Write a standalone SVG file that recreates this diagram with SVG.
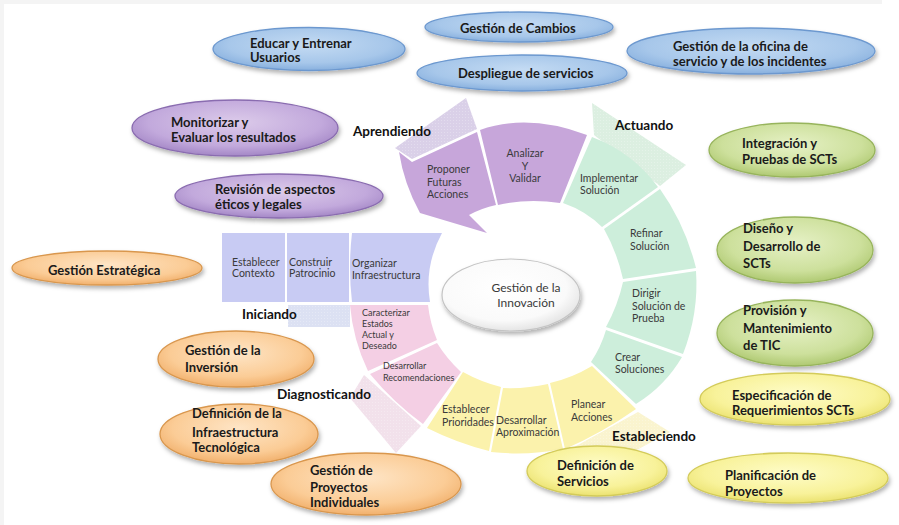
<svg xmlns="http://www.w3.org/2000/svg" width="899" height="525" viewBox="0 0 899 525">
<defs>
<radialGradient id="gBlue" cx="50%" cy="40%" r="60%"><stop offset="0" stop-color="#c4dbf3"/><stop offset="0.7" stop-color="#a7c7ea"/><stop offset="1" stop-color="#88b0de"/></radialGradient>
<radialGradient id="gPurple" cx="50%" cy="40%" r="60%"><stop offset="0" stop-color="#dccbea"/><stop offset="0.7" stop-color="#c2a9dc"/><stop offset="1" stop-color="#a487c6"/></radialGradient>
<radialGradient id="gGreen" cx="50%" cy="40%" r="60%"><stop offset="0" stop-color="#e6f1c6"/><stop offset="0.7" stop-color="#cde09c"/><stop offset="1" stop-color="#afc972"/></radialGradient>
<radialGradient id="gYellow" cx="50%" cy="40%" r="60%"><stop offset="0" stop-color="#fefcc8"/><stop offset="0.7" stop-color="#f8f29a"/><stop offset="1" stop-color="#ebe270"/></radialGradient>
<radialGradient id="gOrange" cx="50%" cy="40%" r="60%"><stop offset="0" stop-color="#fee5c6"/><stop offset="0.7" stop-color="#fbcc96"/><stop offset="1" stop-color="#f1b06c"/></radialGradient>
<radialGradient id="gCenter" cx="45%" cy="40%" r="65%"><stop offset="0" stop-color="#ffffff"/><stop offset="0.7" stop-color="#fafafa"/><stop offset="1" stop-color="#dedede"/></radialGradient>
<pattern id="dots" width="3" height="3" patternUnits="userSpaceOnUse"><rect x="0" y="0" width="1" height="1" fill="#ffffff" fill-opacity="0.25"/></pattern>
<filter id="sh" x="-20%" y="-30%" width="140%" height="170%"><feDropShadow dx="1.5" dy="3" stdDeviation="2" flood-color="#000" flood-opacity="0.3"/></filter>
</defs>
<style>
.seg{stroke:none}
.blue{fill:#c8cbf3}.pink{fill:#f4cfe4}.yellow{fill:#fbf2ac}.green{fill:#cdeedb}.purple{fill:#c7a6da}
.fblue{fill:#dce1f3}.fpink{fill:#f2e1eb}.fyellow{fill:#faf4cf}.fgreen{fill:#dcefe1}.fpurple{fill:#dad0e8}
.dot{fill:url(#dots)}
.st{font-family:Lato,"Open Sans","Liberation Sans",sans-serif;font-size:10.5px;fill:#3a3a3a}
.sm{font-size:9px}
.el{font-family:Lato,"Open Sans","Liberation Sans",sans-serif;font-size:13px;font-weight:bold;fill:#1a1a1a}
.lb{font-family:Lato,"Open Sans","Liberation Sans",sans-serif;font-size:13.5px;font-weight:bold;fill:#111}
.eb{fill:url(#gBlue);stroke:#6c98cf;stroke-width:1.3;filter:url(#sh)}
.ep{fill:url(#gPurple);stroke:#8a6cb0;stroke-width:1.3;filter:url(#sh)}
.eg{fill:url(#gGreen);stroke:#97b45b;stroke-width:1.3;filter:url(#sh)}
.ey{fill:url(#gYellow);stroke:#d3cb5a;stroke-width:1.3;filter:url(#sh)}
.eo{fill:url(#gOrange);stroke:#d9974e;stroke-width:1.3;filter:url(#sh)}
</style>
<rect x="0" y="0" width="899" height="525" fill="#ffffff"/>
<rect x="0" y="0" width="882" height="4" fill="#f4f4f4"/>
<rect x="0" y="0" width="4" height="525" fill="#f4f4f4"/>

<g id="connectors"></g>

<!-- faint phase ribbons -->
<g id="ribbons">
<path class="fpurple" d="M395,148 L466,98 L477,129 L412,159 Z"/>
<path class="dot" d="M395,148 L466,98 L477,129 L412,159 Z"/>
<path class="fgreen" d="M592,103 L686,165 L660,186 L594,135 Z"/>
<path class="dot" d="M592,103 L686,165 L660,186 L594,135 Z"/>
<rect class="fblue" x="288" y="305" width="62" height="22"/>
<rect class="dot" x="288" y="305" width="62" height="22"/>
<path class="fpink" d="M364,375 L421,426 L396,453 L350,398 Z"/>
<path class="dot" d="M364,375 L421,426 L396,453 L350,398 Z"/>
<path class="fyellow" d="M567,451 L638,412 L670,432 L600,470 Z"/>
<path class="dot" d="M567,451 L638,412 L670,432 L600,470 Z"/>
</g>

<!-- Iniciando -->
<g id="iniciando">
<rect class="seg blue" x="222" y="233" width="63" height="69"/>
<rect class="seg blue" x="287" y="233" width="62" height="69"/>
<path class="seg blue" d="M352,233 L442,233 Q424,266 430,302 L352,302 Q348,268 352,233 Z"/>
<text class="st" x="232" y="265.5">Establecer</text><text class="st" x="232" y="277">Contexto</text>
<text class="st" x="289" y="265.5">Construir</text><text class="st" x="289" y="277">Patrocinio</text>
<text class="st" x="352" y="267">Organizar</text><text class="st" x="352" y="279">Infraestructura</text>
<text class="lb" x="242" y="319">Iniciando</text>
</g>

<!-- Diagnosticando -->
<g id="diagnosticando">
<path class="seg pink" d="M350,305 L428,305 Q430,323 437,340 L368,371 Q353,340 350,305 Z"/>
<path class="seg pink" d="M370,374 L437,343 Q447,359 461,372 L423,424 Q393,402 370,374 Z"/>
<text class="st sm" x="362" y="316">Caracterizar</text>
<text class="st sm" x="362" y="326.5">Estados</text>
<text class="st sm" x="362" y="337.5">Actual y</text>
<text class="st sm" x="362" y="349">Deseado</text>
<text class="st sm" x="383" y="369">Desarrollar</text>
<text class="st sm" x="383" y="380.5">Recomendaciones</text>
<text class="lb" x="277" y="399">Diagnosticando</text>
</g>

<!-- Estableciendo -->
<g id="estableciendo">
<path class="seg yellow" d="M463,372 Q481,382 501,387 L489,451 Q457,443 427,428 Z"/>
<path class="seg yellow" d="M503,388 Q526,389 548,384 L563,449 Q527,456 491,452 Z"/>
<path class="seg yellow" d="M550,383 Q572,378 592,366 L636,409 Q602,433 565,449 Z"/>
<text class="st" x="442" y="412.5">Establecer</text><text class="st" x="442" y="425.5">Prioridades</text>
<text class="st" x="496" y="423.5">Desarrollar</text><text class="st" x="496" y="435.5">Aproximación</text>
<text class="st" x="571" y="407.5">Planear</text><text class="st" x="571" y="420.5">Acciones</text>
<text class="lb" x="612" y="441">Estableciendo</text>
</g>

<!-- Actuando -->
<g id="actuando">
<path class="seg green" d="M592,137 Q632,152 658,187 L602,227 Q586,211 563,203 Z"/>
<path class="seg green" d="M604,229 L660,189 Q685,224 696,268 L623,279 Q617,252 604,229 Z"/>
<path class="seg green" d="M623,282 L696,271 Q699,313 683,354 L606,327 Q618,305 623,282 Z"/>
<path class="seg green" d="M606,330 L682,357 Q665,386 636,404 L591,362 Q601,347 606,330 Z"/>
<text class="st" x="580" y="181.5">Implementar</text><text class="st" x="580" y="193.5">Solución</text>
<text class="st" x="630" y="236.5">Refinar</text><text class="st" x="630" y="249.5">Solución</text>
<text class="st" x="632" y="296.5">Dirigir</text><text class="st" x="632" y="309.5">Solución de</text><text class="st" x="632" y="321.5">Prueba</text>
<text class="st" x="615" y="360.5">Crear</text><text class="st" x="615" y="372.5">Soluciones</text>
<text class="lb" x="615" y="130">Actuando</text>
</g>

<!-- Aprendiendo -->
<g id="aprendiendo">
<path class="seg purple" d="M399,152 L412,162 L477,132 L496,205 Q482,208 469,215 L487,233 L420,213 Q404,184 399,152 Z"/>
<path class="seg purple" d="M480,130 Q528,113 587,135 L560,203 Q528,198 498,205 Z"/>
<text class="st" x="427" y="172.5">Proponer</text><text class="st" x="427" y="185.5">Futuras</text><text class="st" x="427" y="197.5">Acciones</text>
<text class="st" x="525" y="156.5" text-anchor="middle">Analizar</text><text class="st" x="525" y="169.5" text-anchor="middle">Y</text><text class="st" x="525" y="181.5" text-anchor="middle">Validar</text>
<text class="lb" x="353" y="136">Aprendiendo</text>
</g>

<!-- Center -->
<g id="centro">
<ellipse cx="511" cy="295" rx="69" ry="36" fill="url(#gCenter)" stroke="#c4c4c4" stroke-width="1.2" filter="url(#sh)"/>
<text class="st" style="font-size:12px" x="526" y="292" text-anchor="middle">Gestión de la</text>
<text class="st" style="font-size:12px" x="526" y="307" text-anchor="middle">Innovación</text>
</g>

<!-- Blue ellipses -->
<g id="educar"><ellipse class="eb" cx="309" cy="49" rx="96" ry="21.5"/>
<text class="el" x="250" y="47.5">Educar y Entrenar</text><text class="el" x="250" y="62">Usuarios</text></g>
<g id="cambios"><ellipse class="eb" cx="519" cy="27" rx="94" ry="15"/>
<text class="el" x="460" y="32.5">Gestión de Cambios</text></g>
<g id="despliegue"><ellipse class="eb" cx="522" cy="73" rx="105" ry="18"/>
<text class="el" x="458" y="77.5">Despliegue de servicios</text></g>
<g id="oficina"><ellipse class="eb" cx="751" cy="51" rx="124" ry="23"/>
<text class="el" x="673" y="50.5">Gestión de la oficina de</text><text class="el" x="673" y="66">servicio y de los incidentes</text></g>

<!-- Purple ellipses -->
<g id="monitorizar"><ellipse class="ep" cx="235" cy="128" rx="103" ry="28"/>
<text class="el" x="171" y="126.5">Monitorizar y</text><text class="el" x="171" y="142">Evaluar los resultados</text></g>
<g id="revision"><ellipse class="ep" cx="279" cy="196" rx="104" ry="22"/>
<text class="el" x="215" y="193.5">Revisión de aspectos</text><text class="el" x="215" y="208.5">éticos y legales</text></g>

<!-- Green ellipses -->
<g id="integracion"><ellipse class="eg" cx="792" cy="150" rx="83" ry="27"/>
<text class="el" x="742" y="147.5">Integración y</text><text class="el" x="742" y="164">Pruebas de SCTs</text></g>
<g id="diseno"><ellipse class="eg" cx="795" cy="250" rx="78" ry="33"/>
<text class="el" x="743" y="232.5">Diseño y</text><text class="el" x="743" y="251">Desarrollo de</text><text class="el" x="743" y="267.5">SCTs</text></g>
<g id="provision"><ellipse class="eg" cx="795" cy="333" rx="78" ry="33"/>
<text class="el" x="743" y="314.5">Provisión y</text><text class="el" x="743" y="332.5">Mantenimiento</text><text class="el" x="743" y="349.5">de TIC</text></g>

<!-- Yellow ellipses -->
<g id="especificacion"><ellipse class="ey" cx="795" cy="399" rx="95" ry="26"/>
<text class="el" x="732" y="399.5">Especificación de</text><text class="el" x="732" y="414.5">Requerimientos SCTs</text></g>
<g id="planificacion"><ellipse class="ey" cx="788" cy="478" rx="100" ry="25"/>
<text class="el" x="725" y="479.5">Planificación de</text><text class="el" x="725" y="496">Proyectos</text></g>
<g id="servicios"><ellipse class="ey" cx="597" cy="471" rx="70" ry="25"/>
<text class="el" x="557" y="469.5">Definición de</text><text class="el" x="557" y="485.5">Servicios</text></g>

<!-- Orange ellipses -->
<g id="estrategica"><ellipse class="eo" cx="107" cy="268" rx="95" ry="17"/>
<text class="el" x="48" y="274.5">Gestión Estratégica</text></g>
<g id="inversion"><ellipse class="eo" cx="236" cy="359" rx="78" ry="28"/>
<text class="el" x="185" y="354.5">Gestión de la</text><text class="el" x="185" y="371.5">Inversión</text></g>
<g id="infraestructura"><ellipse class="eo" cx="239" cy="434" rx="79" ry="30"/>
<text class="el" x="192" y="417.5">Definición de la</text><text class="el" x="192" y="436.5">Infraestructura</text><text class="el" x="192" y="451.5">Tecnológica</text></g>
<g id="proyectos"><ellipse class="eo" cx="366" cy="484" rx="95" ry="31"/>
<text class="el" x="310" y="474.5">Gestión de</text><text class="el" x="310" y="491.5">Proyectos</text><text class="el" x="310" y="506.5">Individuales</text></g>
</svg>
